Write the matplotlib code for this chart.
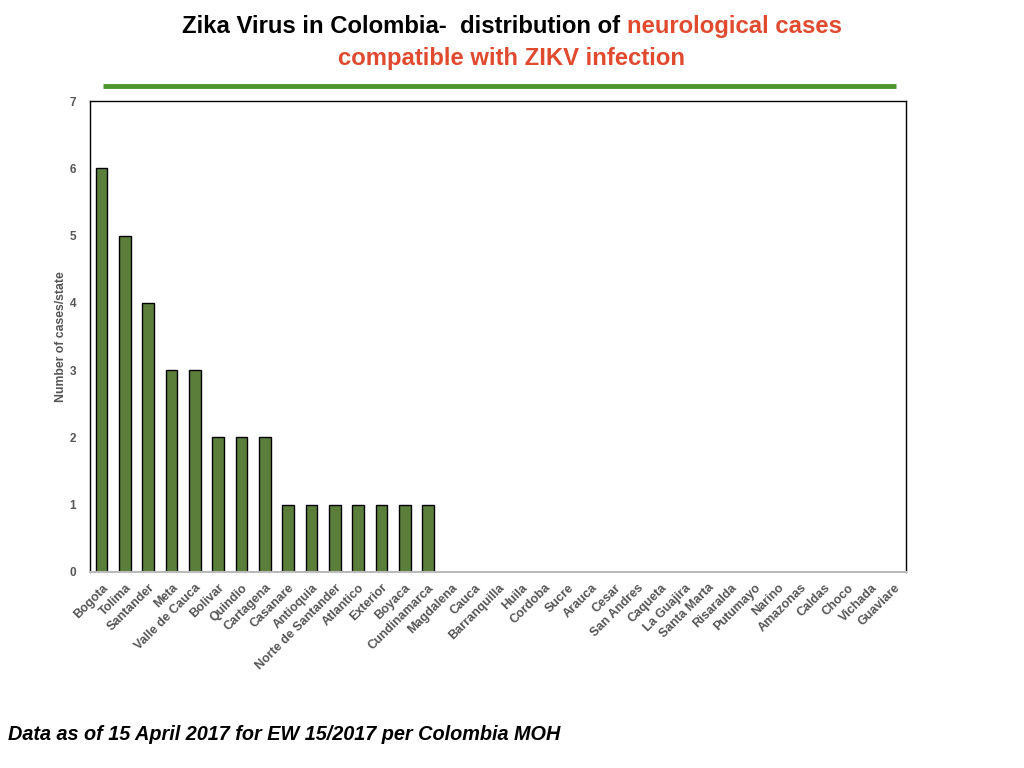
import matplotlib
matplotlib.use("Agg")
import matplotlib.pyplot as plt
from matplotlib.lines import Line2D

states = ["Bogota", "Tolima", "Santander", "Meta", "Valle de Cauca", "Bolivar",
          "Quindio", "Cartagena", "Casanare", "Antioquia", "Norte de Santander",
          "Atlantico", "Exterior", "Boyaca", "Cundinamarca", "Magdalena", "Cauca",
          "Barranquilla", "Huila", "Cordoba", "Sucre", "Arauca", "Cesar",
          "San Andres", "Caqueta", "La Guajira", "Santa Marta", "Risaralda",
          "Putumayo", "Narino", "Amazonas", "Caldas", "Choco", "Vichada", "Guaviare"]
cases = [6, 5, 4, 3, 3, 2, 2, 2, 1, 1, 1, 1, 1, 1, 1,
         0, 0, 0, 0, 0, 0, 0, 0, 0, 0, 0, 0, 0, 0, 0, 0, 0, 0, 0, 0]
yticks = [0, 1, 2, 3, 4, 5, 6, 7]

plt.rcParams['font.family'] = ['Liberation Sans', 'DejaVu Sans']

fig = plt.figure(figsize=(10.24, 7.68), dpi=100)
ax = fig.add_axes([90/1024, 1-572/768, 816/1024, 471/768])

x = list(range(len(states)))
lws = [1.0 if v > 0 else 0.0 for v in cases]
ax.bar(x, cases, width=0.5, color="#5b7f3b", edgecolor="black", linewidth=lws, zorder=3)
ax.set_xlim(-0.5, len(states)-0.5)
ax.set_ylim(0, 7)
ax.set_yticks(yticks)
ax.set_yticklabels([str(v) for v in yticks], fontsize=8.5, fontweight='bold', color="#555555")
ax.set_xticks(x)
ax.set_xticklabels(states, rotation=45, ha='right', rotation_mode='anchor',
                   fontsize=9, fontweight='bold', color="#555555")
ax.tick_params(axis='y', length=0, pad=10)
ax.tick_params(axis='x', length=0, pad=7)
for s in ['left', 'top', 'right']:
    ax.spines[s].set_color('black')
    ax.spines[s].set_linewidth(1.0)
ax.spines['bottom'].set_color('#bbbbbb')
ax.spines['bottom'].set_linewidth(1.5)
ax.spines['bottom'].set_zorder(4)
ax.set_ylabel("Number of cases/state", fontsize=8.8, fontweight='bold', color="#555555")
ax.yaxis.set_label_coords(-(90 - 67) / 816, 0.5)

# Title with mixed colours
red = "#e04a2f"
t1 = "Zika Virus in Colombia-  distribution of "
t2 = "neurological cases"
fs = 17.2
fig.canvas.draw()
r = fig.canvas.get_renderer()
a = fig.text(0, 0, t1, fontsize=fs, fontweight='bold')
b = fig.text(0, 0, t2, fontsize=fs, fontweight='bold', color=red)
w1 = a.get_window_extent(r).width
w2 = b.get_window_extent(r).width
x0 = 512 - (w1 + w2) / 2
a.set_position((x0/1024, 1-33/768))
b.set_position(((x0 + w1)/1024, 1-33/768))
fig.text(0.5, 1-65/768, "compatible with ZIKV infection", fontsize=fs, fontweight='bold',
         color=red, ha='center')

fig.add_artist(Line2D([103/1024, 896/1024], [1-86/768, 1-86/768], color="#4a962f",
                      linewidth=3.5, solid_capstyle='butt'))

fig.text(8/1024, 1-740/768, "Data as of 15 April 2017 for EW 15/2017 per Colombia MOH",
         fontsize=14.3, fontweight='bold', fontstyle='italic', color='black')

fig.savefig("out.png", dpi=100)
